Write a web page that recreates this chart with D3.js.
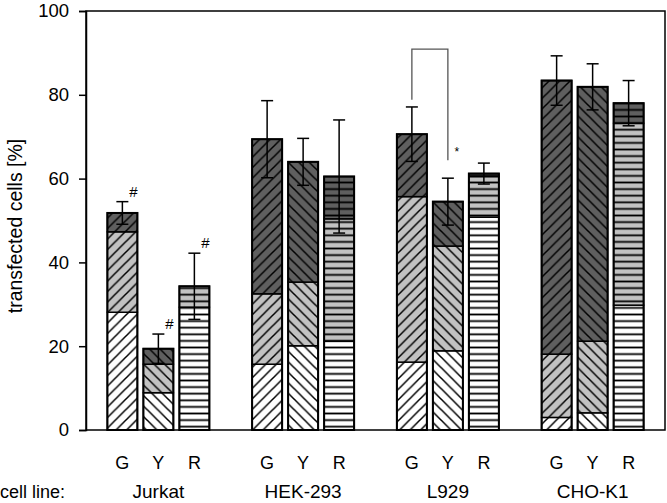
<!DOCTYPE html>
<html>
<head>
<meta charset="utf-8">
<script src="https://cdn.jsdelivr.net/npm/d3@7"></script>
<style>
  html, body { margin: 0; padding: 0; background: #fff; }
  svg { display: block; font-family: "Liberation Sans", Arial, sans-serif; }
</style>
</head>
<body>
<svg id="chart" width="667" height="503"></svg>
<script>
// ---------- data ----------
const cellLines = ["Jurkat", "HEK-293", "L929", "CHO-K1"];
const reporters = ["G", "Y", "R"];
const yTicks = [0, 20, 40, 60, 80, 100];
// segment sizes per bar, order: Jurkat G,Y,R, HEK-293 G,Y,R, L929 G,Y,R, CHO-K1 G,Y,R
const whiteSeg = [28.1, 8.9, 29.3, 15.7, 20.1, 21.2, 16.2, 18.9, 50.8, 3.0, 4.1, 29.8];
const lightSeg = [19.2, 6.8, 5.0, 16.8, 15.2, 29.2, 39.5, 25.0, 9.7, 15.1, 17.1, 43.4];
const darkSeg  = [4.5, 3.7, 0.0, 36.9, 28.7, 10.1, 14.9, 10.6, 0.7, 65.3, 60.7, 4.8];
const errSD    = [2.7, 3.5, 7.9, 9.2, 5.6, 13.5, 6.5, 5.6, 2.5, 5.9, 5.5, 5.4];
const hashMarks = [[0, "G"], [0, "Y"], [0, "R"]]; // [cell line index, reporter]
const bracket = { line: "L929", from: "G", to: "Y", top: 90.9, leftEnd: 78.8, rightEnd: 64.4, label: "*" };

// ---------- layout ----------
const svg = d3.select("#chart");
const pL = 86, pR = 665, pT = 11, pB = 430;

const y = d3.scaleLinear().domain([0, 100]).range([pB, pT]);
const xOuter = d3.scaleBand().domain(cellLines).range([pL, pR]);
const xInner = d3.scaleBand().domain(reporters)
  .range([xOuter.bandwidth() / 2 - 54, xOuter.bandwidth() / 2 + 54])
  .paddingInner(1 / 6).paddingOuter(1 / 12);

const fills = { white: "#ffffff", light: "#c2c2c2", dark: "#5f5f5f" };

// patterns
const defs = svg.append("defs");
const hatch = {
  G: { w: 10.5, h: 10.5, d: "M0,10.5L10.5,0M-2.5,2.5L2.5,-2.5M8,13L13,8" },
  Y: { w: 10.5, h: 10.5, d: "M0,0L10.5,10.5M-2.5,8L2.5,13M8,-2.5L13,2.5" },
  R: { w: 10, h: 6.6, d: "M0,3.3L10,3.3" }
};
for (const r of reporters) {
  for (const c of Object.keys(fills)) {
    const p = defs.append("pattern")
      .attr("id", `pat-${r}-${c}`)
      .attr("patternUnits", "userSpaceOnUse")
      .attr("width", hatch[r].w).attr("height", hatch[r].h)
      .attr("y", r === "R" ? pB : 0);
    p.append("rect").attr("width", hatch[r].w).attr("height", hatch[r].h).attr("fill", fills[c]);
    p.append("path").attr("d", hatch[r].d).attr("stroke", "#000").attr("stroke-width", r === "R" ? 1.8 : 1.5);
  }
}

// bar records
const bars = [];
cellLines.forEach((cl, gi) => {
  reporters.forEach((rp, ri) => {
    const i = gi * 3 + ri;
    const w = whiteSeg[i], l = lightSeg[i], d = darkSeg[i];
    bars.push({
      cl, rp, i,
      x: xOuter(cl) + xInner(rp),
      segs: [
        { c: "white", y0: 0, y1: w },
        { c: "light", y0: w, y1: w + l },
        { c: "dark", y0: w + l, y1: w + l + d }
      ],
      total: w + l + d,
      sd: errSD[i]
    });
  });
});

const bw = xInner.bandwidth();
const g = svg.append("g");

bars.forEach(b => {
  const bg = g.append("g");
  b.segs.filter(s => s.y1 > s.y0).forEach(s => {
    bg.append("rect")
      .attr("x", b.x).attr("width", bw)
      .attr("y", y(s.y1)).attr("height", y(s.y0) - y(s.y1))
      .attr("fill", `url(#pat-${b.rp}-${s.c})`)
      .attr("stroke", "#000").attr("stroke-width", 1.5);
  });
  bg.append("rect")
    .attr("x", b.x).attr("width", bw)
    .attr("y", y(b.total)).attr("height", y(0) - y(b.total))
    .attr("fill", "none").attr("stroke", "#000").attr("stroke-width", 2);
  // error bar
  const cx = b.x + bw / 2;
  const eg = bg.append("g").attr("stroke", "#000").attr("stroke-width", 1.5);
  eg.append("line").attr("x1", cx).attr("x2", cx).attr("y1", y(b.total + b.sd)).attr("y2", y(b.total - b.sd));
  eg.append("line").attr("x1", cx - 6).attr("x2", cx + 6).attr("y1", y(b.total + b.sd)).attr("y2", y(b.total + b.sd));
  eg.append("line").attr("x1", cx - 6).attr("x2", cx + 6).attr("y1", y(b.total - b.sd)).attr("y2", y(b.total - b.sd));
});

// hash marks
hashMarks.forEach(([gi, rp]) => {
  const b = bars.find(d => d.cl === cellLines[gi] && d.rp === rp);
  svg.append("text")
    .attr("x", b.x + bw / 2 + 11).attr("y", y(b.total + b.sd) - 5)
    .attr("text-anchor", "middle").attr("font-size", 15).text("#");
});

// significance bracket
{
  const bl = bars.find(d => d.cl === bracket.line && d.rp === bracket.from);
  const br = bars.find(d => d.cl === bracket.line && d.rp === bracket.to);
  const x1 = bl.x + bw / 2, x2 = br.x + bw / 2;
  svg.append("path")
    .attr("d", `M${x1},${y(bracket.leftEnd)}V${y(bracket.top)}H${x2}V${y(bracket.rightEnd)}`)
    .attr("fill", "none").attr("stroke", "#555").attr("stroke-width", 1.3);
  svg.append("text")
    .attr("x", x2 + 9).attr("y", y(bracket.rightEnd) - 4)
    .attr("text-anchor", "middle").attr("font-size", 12).text(bracket.label);
}

// frame
svg.append("rect")
  .attr("x", pL).attr("y", pT).attr("width", pR - pL).attr("height", pB - pT)
  .attr("fill", "none").attr("stroke", "#000").attr("stroke-width", 1.5);

// y axis
const yAxis = d3.axisLeft(y).tickValues(yTicks).tickSize(7).tickPadding(10);
const ya = svg.append("g").attr("transform", `translate(${pL},0)`).call(yAxis);
ya.select(".domain").attr("stroke-width", 1.5);
ya.selectAll(".tick line").attr("stroke-width", 1.5);
ya.selectAll("text").attr("font-size", 18.5).attr("font-family", "Liberation Sans, Arial, sans-serif").attr("fill", "#000");

svg.append("text")
  .attr("transform", `translate(22,226) rotate(-90)`)
  .attr("text-anchor", "middle").attr("font-size", 19.5)
  .text("transfected cells [%]");

// reporter labels
bars.forEach(b => {
  svg.append("text")
    .attr("x", b.x + bw / 2).attr("y", 469)
    .attr("text-anchor", "middle").attr("font-size", 18).text(b.rp);
});
// cell line labels
svg.append("text").attr("x", 0).attr("y", 498).attr("font-size", 18).text("cell line:");
cellLines.forEach(cl => {
  svg.append("text")
    .attr("x", xOuter(cl) + xOuter.bandwidth() / 2).attr("y", 498)
    .attr("text-anchor", "middle").attr("font-size", 19).text(cl);
});
</script>
</body>
</html>
